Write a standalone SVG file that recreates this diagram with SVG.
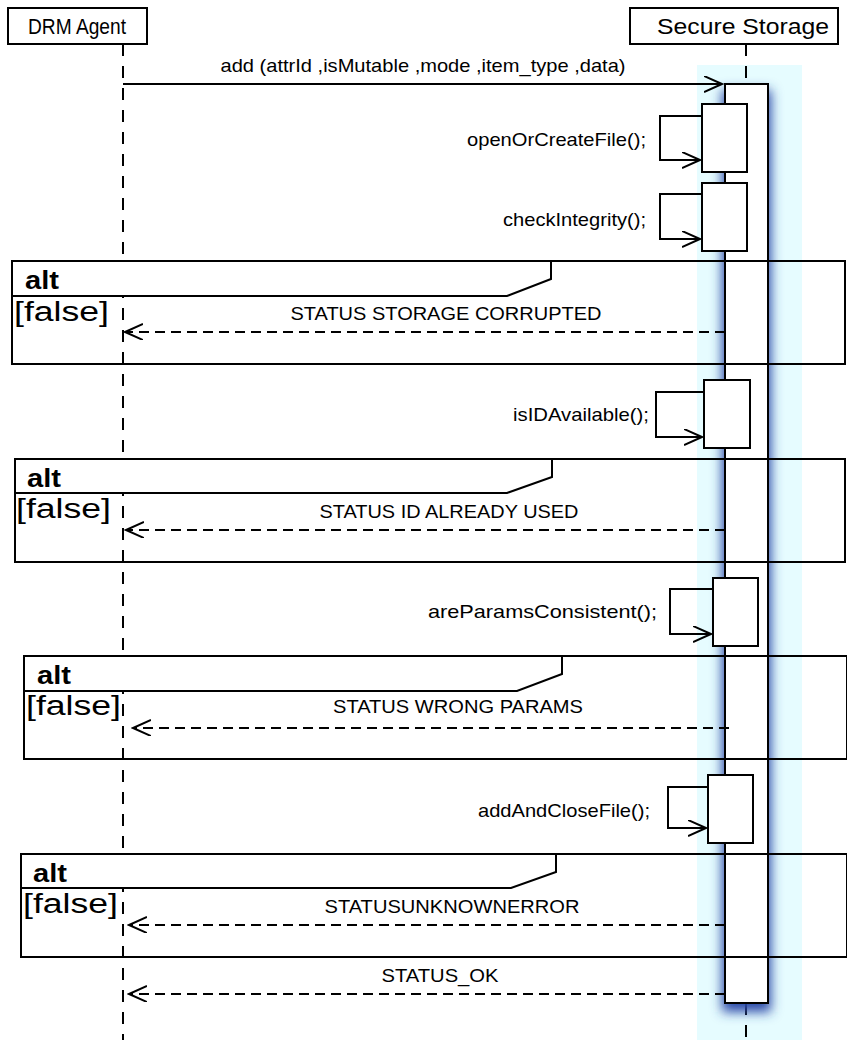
<svg xmlns="http://www.w3.org/2000/svg" width="847" height="1040" viewBox="0 0 847 1040">
<style>
text{font-family:"Liberation Sans",Arial,sans-serif;fill:#000}
.hd{font-size:22px;text-anchor:middle}
.lb{font-size:19px}
.mid{text-anchor:middle}
.end{text-anchor:end}
.alt{font-size:25px;font-weight:bold}
.grd{font-size:27px}
.box{fill:#fff;stroke:#000;stroke-width:2}
.ln{fill:none;stroke:#000;stroke-width:2}
.life{fill:none;stroke:#000;stroke-width:2;stroke-dasharray:12 10}
.ret{fill:none;stroke:#000;stroke-width:2;stroke-dasharray:10 6}
.frm{fill:none;stroke:#000;stroke-width:2}
.pent{fill:#fff;stroke:#000;stroke-width:2}
</style>
<defs>
<filter id="blur" x="-100%" y="-5%" width="300%" height="110%"><feGaussianBlur stdDeviation="6"/></filter>
<marker id="ah" markerWidth="20" markerHeight="20" refX="18" refY="8" orient="auto" markerUnits="userSpaceOnUse"><path d="M0,0 L18,8 L0,16" fill="none" stroke="#000" stroke-width="2"/></marker>
</defs>
<rect x="697" y="65" width="105" height="975" fill="#e6fcff"/>
<g id="lifelines">
<line class="life" x1="123" y1="44" x2="123" y2="1040"/>
<line class="life" x1="746" y1="44" x2="746" y2="84"/>
<line class="life" x1="746" y1="1003" x2="746" y2="1040"/>
</g>
<g id="node-drm-agent"><rect class="box" x="8" y="8" width="139" height="36"/><text class="hd" x="77" y="34" textLength="98" lengthAdjust="spacingAndGlyphs">DRM Agent</text></g>
<g id="node-secure-storage"><rect class="box" x="630" y="8" width="208" height="36"/><text class="hd" x="743" y="34" textLength="172" lengthAdjust="spacingAndGlyphs">Secure Storage</text></g>
<g id="activation-main">
<rect x="722" y="90" width="49" height="922" fill="#2a4aa8" filter="url(#blur)"/>
<rect class="box" x="725" y="84" width="43" height="919"/>
</g>
<g id="call-openOrCreateFile"><rect class="box" x="702" y="104" width="45" height="68"/><text class="lb end" x="646" y="146" textLength="179" lengthAdjust="spacingAndGlyphs">openOrCreateFile();</text></g>
<g id="call-checkIntegrity"><rect class="box" x="702" y="183" width="45" height="68"/><text class="lb end" x="646" y="226" textLength="143" lengthAdjust="spacingAndGlyphs">checkIntegrity();</text></g>
<g id="call-isIDAvailable"><rect class="box" x="704" y="380" width="46" height="68"/><text class="lb end" x="649" y="421" textLength="136" lengthAdjust="spacingAndGlyphs">isIDAvailable();</text></g>
<g id="call-areParamsConsistent"><rect class="box" x="713" y="578" width="45" height="68"/><text class="lb end" x="657" y="618" textLength="229" lengthAdjust="spacingAndGlyphs">areParamsConsistent();</text></g>
<g id="call-addAndCloseFile"><rect class="box" x="708" y="775" width="45" height="68"/><text class="lb end" x="650" y="817" textLength="172" lengthAdjust="spacingAndGlyphs">addAndCloseFile();</text></g>
<g id="alt1"><rect class="frm" x="12" y="261" width="833" height="103"/><path class="pent" d="M12,261 H551 V279 L507,296 H12 Z"/><text class="alt" x="25" y="289" textLength="34" lengthAdjust="spacingAndGlyphs">alt</text><text class="grd" x="14" y="321" textLength="95" lengthAdjust="spacingAndGlyphs">[false]</text></g>
<g id="alt2"><rect class="frm" x="15" y="459" width="830" height="103"/><path class="pent" d="M15,459 H552 V477 L507,493 H15 Z"/><text class="alt" x="27" y="487" textLength="34" lengthAdjust="spacingAndGlyphs">alt</text><text class="grd" x="16" y="518" textLength="95" lengthAdjust="spacingAndGlyphs">[false]</text></g>
<g id="alt3"><rect class="frm" x="24" y="656" width="823" height="103"/><path class="pent" d="M24,656 H562 V674 L517,691 H24 Z"/><text class="alt" x="37" y="684" textLength="34" lengthAdjust="spacingAndGlyphs">alt</text><text class="grd" x="26" y="715" textLength="95" lengthAdjust="spacingAndGlyphs">[false]</text></g>
<g id="alt4"><rect class="frm" x="21" y="854" width="826" height="103"/><path class="pent" d="M21,854 H556 V872 L511,888 H21 Z"/><text class="alt" x="33" y="882" textLength="34" lengthAdjust="spacingAndGlyphs">alt</text><text class="grd" x="23" y="913" textLength="95" lengthAdjust="spacingAndGlyphs">[false]</text></g>
<g id="connectors">
<line class="ln" x1="123" y1="84" x2="722" y2="84" marker-end="url(#ah)"/>
<text class="lb mid" x="423" y="72" textLength="405" lengthAdjust="spacingAndGlyphs">add (attrId ,isMutable ,mode ,item_type ,data)</text>
<path class="ln" d="M702,116 H660 V160 H700" marker-end="url(#ah)"/>
<path class="ln" d="M702,194 H660 V239 H700" marker-end="url(#ah)"/>
<path class="ln" d="M704,392 H656 V437 H702" marker-end="url(#ah)"/>
<path class="ln" d="M713,589 H670 V634 H711" marker-end="url(#ah)"/>
<path class="ln" d="M708,787 H668 V828 H706" marker-end="url(#ah)"/>
<line class="ret" x1="725" y1="332" x2="125" y2="332" marker-end="url(#ah)"/>
<text class="lb mid" x="446" y="320" textLength="311" lengthAdjust="spacingAndGlyphs">STATUS STORAGE CORRUPTED</text>
<line class="ret" x1="725" y1="530" x2="126" y2="530" marker-end="url(#ah)"/>
<text class="lb mid" x="449" y="518" textLength="259" lengthAdjust="spacingAndGlyphs">STATUS ID ALREADY USED</text>
<line class="ret" x1="729" y1="728" x2="133" y2="728" marker-end="url(#ah)"/>
<text class="lb mid" x="458" y="713" textLength="250" lengthAdjust="spacingAndGlyphs">STATUS WRONG PARAMS</text>
<line class="ret" x1="725" y1="925" x2="129" y2="925" marker-end="url(#ah)"/>
<text class="lb mid" x="452" y="913" textLength="255" lengthAdjust="spacingAndGlyphs">STATUSUNKNOWNERROR</text>
<line class="ret" x1="725" y1="994" x2="129" y2="994" marker-end="url(#ah)"/>
<text class="lb mid" x="440" y="982" textLength="117" lengthAdjust="spacingAndGlyphs">STATUS_OK</text>
</g>
</svg>
